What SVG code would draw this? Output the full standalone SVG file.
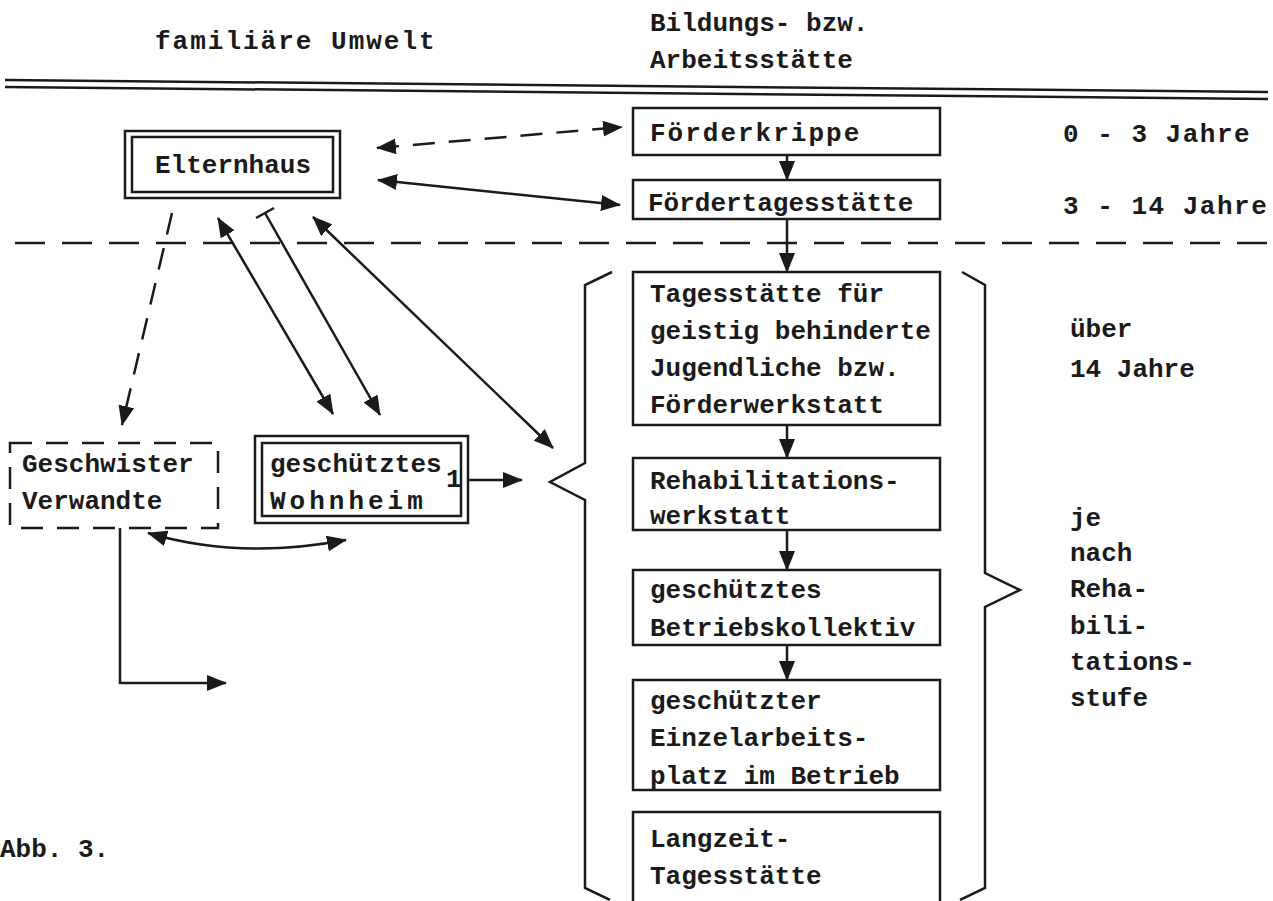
<svg xmlns="http://www.w3.org/2000/svg" width="1273" height="901" viewBox="0 0 1273 901">
<style>
text{font-family:"Liberation Mono","Courier New",monospace;font-weight:bold;font-size:26px;fill:#1a1a1a}
.box{fill:none;stroke:#1a1a1a;stroke-width:2.5}
.ln{fill:none;stroke:#1a1a1a;stroke-width:2.5}
.dash{stroke-dasharray:22 14}
.hdash{fill:none;stroke:#1a1a1a;stroke-width:2.5;stroke-dasharray:30 17}
</style>
<defs>
<marker id="ah" viewBox="0 0 20 16" refX="19" refY="8" markerWidth="20" markerHeight="16" markerUnits="userSpaceOnUse" orient="auto-start-reverse">
<path d="M0,0 L20,8 L0,16 Z" fill="#1a1a1a"/>
</marker>
</defs>
<rect width="1273" height="901" fill="#fff"/>
<g id="header">
<text x="155" y="49" font-size="28" letter-spacing="2">familiäre Umwelt</text>
<text x="650" y="31">Bildungs- bzw.</text>
<text x="650" y="68">Arbeitsstätte</text>
<line class="ln" x1="5" y1="80" x2="1268" y2="92"/>
<line class="ln" x1="5" y1="87" x2="1268" y2="99"/>
<line class="hdash" x1="15" y1="243" x2="1268" y2="243"/>
</g>
<g id="elternhaus">
<rect class="box" x="125" y="131" width="215" height="67"/>
<rect class="box" x="132" y="137" width="201" height="55" stroke-width="2"/>
<text x="155" y="173">Elternhaus</text>
</g>
<g id="foerderkrippe">
<rect class="box" x="633" y="108" width="307" height="47"/>
<text x="650" y="141" letter-spacing="2">Förderkrippe</text>
</g>
<g id="foerdertagesstaette">
<rect class="box" x="633" y="180" width="307" height="39"/>
<text x="648" y="211">Fördertagesstätte</text>
</g>
<g id="tagesstaette">
<rect class="box" x="633" y="272" width="307" height="153"/>
<text x="650" y="302">Tagesstätte für</text>
<text x="650" y="339">geistig behinderte</text>
<text x="650" y="376">Jugendliche bzw.</text>
<text x="650" y="413">Förderwerkstatt</text>
</g>
<g id="rehawerkstatt">
<rect class="box" x="633" y="458" width="307" height="72"/>
<text x="650" y="489">Rehabilitations-</text>
<text x="650" y="524">werkstatt</text>
</g>
<g id="betriebskollektiv">
<rect class="box" x="633" y="570" width="307" height="75"/>
<text x="650" y="598">geschütztes</text>
<text x="650" y="636">Betriebskollektiv</text>
</g>
<g id="einzelarbeitsplatz">
<rect class="box" x="633" y="680" width="307" height="110"/>
<text x="650" y="709">geschützter</text>
<text x="650" y="746">Einzelarbeits-</text>
<text x="650" y="784">platz im Betrieb</text>
</g>
<g id="langzeit">
<rect class="box" x="633" y="812" width="307" height="95"/>
<text x="650" y="847">Langzeit-</text>
<text x="650" y="884">Tagesstätte</text>
</g>
<g id="geschwister">
<rect class="box dash" x="10" y="443" width="208" height="85"/>
<text x="22" y="472">Geschwister</text>
<text x="22" y="509">Verwandte</text>
</g>
<g id="wohnheim">
<rect class="box" x="255" y="436" width="213" height="87"/>
<rect class="box" x="262" y="443" width="199" height="73" stroke-width="2"/>
<text x="270" y="472">geschütztes</text>
<text x="270" y="509" letter-spacing="4">Wohnheim</text>
<text x="446" y="487" font-size="20">1</text>
</g>
<g id="braces">
<path class="ln" d="M612,272 L585,285 L585,463 L550,482 L585,500 L585,888 L610,900"/>
<path class="ln" d="M962,272 L985,285 L985,573 L1020,590 L985,607 L985,888 L960,900"/>
</g>
<g id="labels">
<text x="1063" y="142" letter-spacing="1.5">0 - 3 Jahre</text>
<text x="1063" y="214" letter-spacing="1.5">3 - 14 Jahre</text>
<text x="1070" y="337">über</text>
<text x="1070" y="377">14 Jahre</text>
<text x="1070" y="526">je</text>
<text x="1070" y="561">nach</text>
<text x="1070" y="597">Reha-</text>
<text x="1070" y="634">bili-</text>
<text x="1070" y="670">tations-</text>
<text x="1070" y="706">stufe</text>
<text x="0" y="857" font-size="24">Abb. 3.</text>
</g>
<g id="connectors">
<line class="ln dash" x1="377" y1="148" x2="622" y2="127" marker-start="url(#ah)" marker-end="url(#ah)"/>
<line class="ln" x1="378" y1="180" x2="620" y2="205" marker-start="url(#ah)" marker-end="url(#ah)"/>
<line class="ln" x1="787" y1="155" x2="787" y2="180" marker-end="url(#ah)"/>
<line class="ln" x1="787" y1="219" x2="787" y2="272" marker-end="url(#ah)"/>
<line class="ln" x1="787" y1="425" x2="787" y2="458" marker-end="url(#ah)"/>
<line class="ln" x1="787" y1="530" x2="787" y2="570" marker-end="url(#ah)"/>
<line class="ln" x1="787" y1="645" x2="787" y2="680" marker-end="url(#ah)"/>
<line class="ln dash" x1="172" y1="213" x2="122" y2="425" marker-end="url(#ah)"/>
<line class="ln" x1="218" y1="218" x2="333" y2="414" marker-start="url(#ah)" marker-end="url(#ah)"/>
<line class="ln" x1="265" y1="213" x2="380" y2="415" marker-end="url(#ah)"/>
<line class="ln" x1="256" y1="218" x2="274" y2="208"/>
<line class="ln" x1="313" y1="217" x2="553" y2="448" marker-start="url(#ah)" marker-end="url(#ah)"/>
<line class="ln" x1="468" y1="480" x2="522" y2="480" marker-end="url(#ah)"/>
<path class="ln" d="M148,533 Q240,560 346,540" marker-start="url(#ah)" marker-end="url(#ah)"/>
<path class="ln" d="M120,528 L120,683 L226,683" marker-end="url(#ah)"/>
</g>
</svg>
